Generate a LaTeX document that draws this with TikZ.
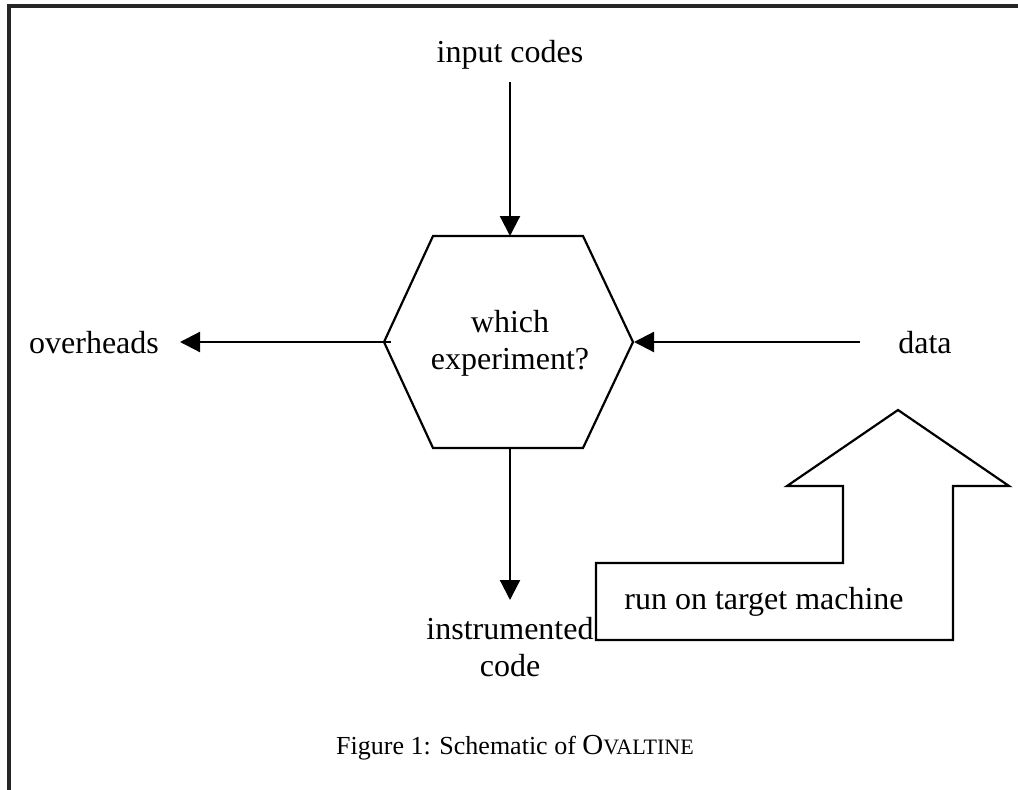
\documentclass[tikz,border=0pt]{standalone}
\usepackage{fontspec}
\setmainfont{Liberation Serif}
\usetikzlibrary{arrows.meta}
\begin{document}
\begin{tikzpicture}[x=1pt,y=-1pt,
  label/.style={inner sep=0pt,font=\fontsize{32}{37}\selectfont,align=center},
  flow/.style={line width=2.2pt,-{Triangle[length=20pt,width=20pt]}},
  outline/.style={line width=2.2pt,line join=miter},
  frame/.style={line width=3.2pt,draw=black!85}]
\useasboundingbox (0,0) rectangle (1018,790);
\fill[white] (0,0) rectangle (1018,790);

% frame along the top and the left side
\draw[frame] (1018,6) -- (9,6) -- (9,790);

% hexagon corners
\coordinate (hl) at (384,342);
\coordinate (htl) at (433,236);
\coordinate (htr) at (583,236);
\coordinate (hr) at (633,342);
\coordinate (hbr) at (583,448);
\coordinate (hbl) at (433,448);
\coordinate (htop) at (510,236);
\coordinate (hbot) at (510,448);
\draw[outline] (hl) -- (htl) -- (htr) -- (hr) -- (hbr) -- (hbl) -- cycle;
\node[label] (decide) at (510,343) {which\\experiment?};

% labels
\node[label] (inputs) at (510,55) {input codes};
\node[label] (overheads) at (94,343) {overheads};
\node[label] (data) at (925,343) {data};
\node[label] (instr) at (510,647) {instrumented\\code};

% connector end points
\coordinate (inEnd) at (510,82);
\coordinate (ovStart) at (391,342);
\coordinate (ovEnd) at (180,342);
\coordinate (dataStart) at (860,342);
\coordinate (hrTip) at (634,342);
\coordinate (instrEnd) at (510,600);

\draw[flow] (inEnd) -- (htop);
\draw[flow] (ovStart) -- (ovEnd);
\draw[flow] (dataStart) -- (hrTip);
\draw[flow] (hbot) -- (instrEnd);

% block arrow for running on the target machine
\draw[outline] (596,563) -- (843,563) -- (843,486) -- (787,486) -- (898,410)
  -- (1009,486) -- (953,486) -- (953,640) -- (596,640) -- cycle;
\node[label] (run) at (764,602) {run on target machine};

% caption
\node[inner sep=0pt,font=\fontsize{26}{28}\selectfont] (caption) at (515,748)
  {Figure 1: Schematic of {\fontsize{29}{28}\selectfont O}{\fontsize{22}{28}\selectfont VALTINE}};
\end{tikzpicture}
\end{document}
